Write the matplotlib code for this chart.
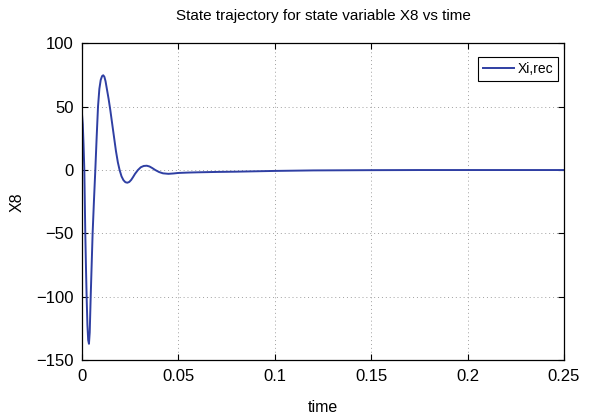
import matplotlib
matplotlib.use("Agg")
import matplotlib.pyplot as plt

# values
time = [0, 0.0004, 0.0008, 0.0012, 0.0017, 0.0021, 0.0024, 0.0028, 0.0032, 0.0036,
        0.0040, 0.0045, 0.0050, 0.0055, 0.0062, 0.0069, 0.0076, 0.0083, 0.0090, 0.0097,
        0.0104, 0.0110, 0.0116, 0.0122, 0.0130, 0.0138, 0.0147, 0.0156, 0.0166, 0.0176,
        0.0186, 0.0195, 0.0205, 0.0215, 0.0225, 0.0235, 0.0245, 0.0255, 0.0265, 0.0275,
        0.0290, 0.0305, 0.0320, 0.0336, 0.0350, 0.0365, 0.0380, 0.0400, 0.0420, 0.0448,
        0.0475, 0.050, 0.055, 0.060, 0.070, 0.080, 0.090, 0.100, 0.110, 0.120,
        0.135, 0.150, 0.175, 0.200, 0.225, 0.250]
x8 = [44, 36, 20, 0, -50, -80, -100, -122, -134, -137,
      -128, -100, -75, -50, -24, 0, 26, 50, 64, 71,
      74, 74.7, 73.5, 70, 63, 56, 47, 37, 26, 15,
      6, 0, -5, -8, -9.6, -10, -9.4, -7.8, -5.5, -3,
      0, 2.2, 3.2, 3.4, 2.8, 1.5, 0, -1.6, -2.6, -3.0,
      -2.7, -2.3, -2.0, -1.8, -1.5, -1.3, -1.0, -0.7, -0.5, -0.3,
      -0.2, -0.1, 0, 0, 0, 0]

xticks = [0, 0.05, 0.1, 0.15, 0.2, 0.25]
xticklabels = ["0", "0.05", "0.1", "0.15", "0.2", "0.25"]
yticks = [-150, -100, -50, 0, 50, 100]

plt.rcParams["font.family"] = ["Liberation Sans", "DejaVu Sans"]

fig = plt.figure(figsize=(5.9, 4.19), dpi=100)
ax = fig.add_axes([0.139, 0.14, 0.817, 0.757])

ax.plot(time, x8, color="#2f3fa3", lw=1.4, label="Xi,rec")

ax.set_xlim(0, 0.25)
ax.set_ylim(-150, 100)
ax.set_xticks(xticks)
ax.set_xticklabels(xticklabels)
ax.set_yticks(yticks)
ax.tick_params(direction="in", top=True, right=True, labelsize=12, length=4,
               width=0.8, pad=6)
for s in ax.spines.values():
    s.set_linewidth(0.9)

ax.grid(True, linestyle=(0, (1, 3)), color="#a0a0a0", linewidth=0.7)

ax.set_title("State trajectory for state variable X8 vs time", fontsize=11, pad=17)
ax.set_xlabel("time", fontsize=11.5, labelpad=12)
ax.set_ylabel("X8", fontsize=11.5, labelpad=8)

leg = ax.legend(loc="upper right", bbox_to_anchor=(0.988, 0.956), borderaxespad=0,
                fontsize=10, fancybox=False, framealpha=1, edgecolor="black",
                handlelength=2.2, handletextpad=0.3, borderpad=0.35)
leg.get_frame().set_linewidth(0.8)

fig.savefig("out.png", dpi=100)
